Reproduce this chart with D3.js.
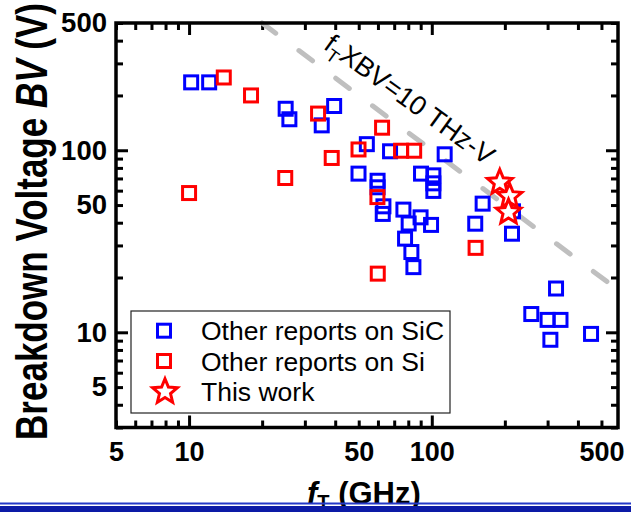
<!DOCTYPE html>
<html>
<head>
<meta charset="utf-8">
<script src="https://cdn.jsdelivr.net/npm/d3@7"></script>
<style>
  body { margin: 0; background: #fff; }
  svg { display: block; font-family: "Liberation Sans", Arial, sans-serif; }
</style>
</head>
<body>
<div id="chart"></div>
<script>
// f_T (GHz) and BV (V)
const sicF  = [10.2, 12.1, 25, 25.9, 35.2, 39.6, 54, 49.9, 67.3, 113, 59.8, 59.8, 63.2, 62.8, 90.3, 101.5, 101.5, 101.5,
               76.4, 89.9, 99.3, 80.3, 77.6, 82.4, 84, 162, 151, 214, 216, 325, 257, 300, 339, 308, 453];
const sicBV = [236, 236, 169, 148, 137, 175, 108, 74.4, 98.7, 95, 68, 62.6, 49.2, 44.7, 74.4, 72.8, 65.8, 59.8,
               47.2, 42.8, 38.9, 39.6, 32.7, 27.6, 22.8, 50.9, 39.5, 34.8, 46.2, 17.4, 12.6, 11.7, 11.7, 9.1, 9.8];
const siF   = [13.9, 18, 10, 24.9, 34, 38.7, 49.9, 62.4, 74.7, 84.6, 59.7, 59.9, 151.5];
const siBV  = [251, 200, 58.2, 70.4, 159, 90.7, 101, 133, 99.4, 99.4, 55.3, 21, 29.1];
const thisF  = [190.6, 209, 207];
const thisBV = [66.5, 55.8, 45.7];

const xLabelTicks = [5, 10, 50, 100, 500];
const yLabelTicks = [5, 10, 50, 100, 500];
const majorTicks = [10, 100];
const legendNames = ["Other reports on SiC", "Other reports on Si", "This work"];
const fomProduct = 10000; // fT x BV = 10 THz-V, in GHz*V

const W = 631, H = 512;
const box = {left: 116, right: 618, top: 23, bottom: 427.5};

const svg = d3.select("#chart").append("svg")
    .attr("width", W).attr("height", H);

const x = d3.scaleLog().domain([5, 585]).range([box.left, box.right]);
const y = d3.scaleLog().domain([3, 500]).range([box.bottom, box.top]);

const minorX = x.ticks().filter(v => !majorTicks.includes(v));
const minorY = y.ticks().filter(v => !majorTicks.includes(v));

// ticks on all four sides, pointing inward
function tickGroup(axisFn, scale, values, size, transform) {
    const g = svg.append("g").attr("transform", transform)
        .call(axisFn(scale).tickValues(values).tickSize(-size).tickFormat(""));
    g.select(".domain").remove();
    g.selectAll("line").attr("stroke", "#000").attr("stroke-width", 3);
}
[[minorX, 7], [majorTicks, 12]].forEach(([vals, len]) => {
    tickGroup(d3.axisBottom, x, vals, len, `translate(0,${box.bottom})`);
    tickGroup(d3.axisTop, x, vals, len, `translate(0,${box.top})`);
});
[[minorY, 7], [majorTicks, 12]].forEach(([vals, len]) => {
    tickGroup(d3.axisLeft, y, vals, len, `translate(${box.left},0)`);
    tickGroup(d3.axisRight, y, vals, len, `translate(${box.right},0)`);
});

// tick labels
const xl = svg.append("g").attr("transform", `translate(0,${box.bottom})`)
    .call(d3.axisBottom(x).tickValues(xLabelTicks).tickSize(0).tickPadding(14).tickFormat(d3.format("d")));
xl.select(".domain").remove();
xl.selectAll("text").attr("font-size", 27).attr("font-weight", "bold")
    .attr("font-family", "Liberation Sans, Arial, sans-serif").attr("fill", "#000");

const yl = svg.append("g").attr("transform", `translate(${box.left},0)`)
    .call(d3.axisLeft(y).tickValues(yLabelTicks).tickSize(0).tickPadding(9).tickFormat(d3.format("d")));
yl.select(".domain").remove();
yl.selectAll("text").attr("font-size", 27.5).attr("font-weight", "bold")
    .attr("font-family", "Liberation Sans, Arial, sans-serif").attr("fill", "#000");

// fT x BV = 10 THz-V guide line
const lineF = [fomProduct / 500, 585];
svg.append("path")
    .attr("d", d3.line()(lineF.map(f => [x(f), y(fomProduct / f)])))
    .attr("stroke", "#bfbfbf").attr("stroke-width", 5)
    .attr("stroke-dasharray", "17,29").attr("stroke-linecap", "round")
    .attr("fill", "none");

const angle = Math.atan2(y(fomProduct / 100) - y(fomProduct / 10), x(100) - x(10)) * 180 / Math.PI;
const ann = svg.append("text")
    .attr("transform", `translate(${x(35.5)},${y(365)}) rotate(${angle - 1})`)
    .attr("font-size", 27).attr("fill", "#000");
ann.append("tspan").text("f");
ann.append("tspan").attr("font-size", 18).attr("dy", 7).text("T");
ann.append("tspan").attr("dy", -7).text("XBV=10 THz-V");

// markers
const side = 13;
function squares(fs, bvs, color) {
    svg.append("g").selectAll("rect")
        .data(fs.map((f, i) => [f, bvs[i]]))
        .join("rect")
        .attr("x", d => x(d[0]) - side / 2)
        .attr("y", d => y(d[1]) - side / 2)
        .attr("width", side).attr("height", side)
        .attr("fill", "none").attr("stroke", color).attr("stroke-width", 3);
}
function starPath(r1, r2) {
    const pts = d3.range(10).map(i => {
        const a = -Math.PI / 2 + i * Math.PI / 5;
        const r = i % 2 ? r2 : r1;
        return [r * Math.cos(a), r * Math.sin(a)];
    });
    return "M" + pts.join("L") + "Z";
}
squares(sicF, sicBV, "#0000ff");
squares(siF, siBV, "#ff0000");
svg.append("g").selectAll("path")
    .data(thisF.map((f, i) => [f, thisBV[i]]))
    .join("path")
    .attr("transform", d => `translate(${x(d[0])},${y(d[1])})`)
    .attr("d", starPath(13, 5.8))
    .attr("fill", "#fff").attr("stroke", "#ff0000").attr("stroke-width", 3)
    .attr("stroke-linejoin", "miter");

// frame
svg.append("rect")
    .attr("x", box.left).attr("y", box.top)
    .attr("width", box.right - box.left).attr("height", box.bottom - box.top)
    .attr("fill", "none").attr("stroke", "#000").attr("stroke-width", 3.5);

// legend
const lg = svg.append("g").attr("transform", "translate(131,311)");
lg.append("rect").attr("width", 319).attr("height", 102)
    .attr("fill", "#fff").attr("stroke", "#222").attr("stroke-width", 1.2);
const rows = [19.7, 50, 80.7];
lg.append("rect").attr("x", 33 - side / 2).attr("y", rows[0] - side / 2).attr("width", side).attr("height", side)
    .attr("fill", "none").attr("stroke", "#0000ff").attr("stroke-width", 3);
lg.append("rect").attr("x", 33 - side / 2).attr("y", rows[1] - side / 2).attr("width", side).attr("height", side)
    .attr("fill", "none").attr("stroke", "#ff0000").attr("stroke-width", 3);
lg.append("path").attr("transform", `translate(34,${rows[2]})`).attr("d", starPath(13, 5.8))
    .attr("fill", "#fff").attr("stroke", "#ff0000").attr("stroke-width", 3);
lg.selectAll("text.lab").data(legendNames).join("text")
    .attr("class", "lab")
    .attr("x", 70).attr("y", (d, i) => rows[i]).attr("dy", "0.36em")
    .attr("font-size", 26.5).attr("fill", "#000")
    .text(d => d);

// axis titles
const yt = svg.append("text")
    .attr("transform", "translate(47,221.5) rotate(-90) scale(1,1.28)")
    .attr("text-anchor", "middle").attr("font-size", 35).attr("font-weight", "bold").attr("fill", "#000");
yt.append("tspan").text("Breakdown Voltage ");
yt.append("tspan").attr("font-style", "italic").text("BV");
yt.append("tspan").text(" (V)");

const xt = svg.append("text")
    .attr("x", 307).attr("y", 504)
    .attr("font-size", 31).attr("font-weight", "bold").attr("fill", "#000");
xt.append("tspan").attr("font-style", "italic").text("f");
xt.append("tspan").attr("font-size", 20).attr("dy", 5).text("T");
xt.append("tspan").attr("dy", -5).text(" (GHz)");

// rule lines at the bottom
svg.append("rect").attr("x", 0).attr("y", 502.5).attr("width", W).attr("height", 2)
    .attr("fill", "#2438c8");
svg.append("rect").attr("x", 0).attr("y", 506).attr("width", W).attr("height", 6)
    .attr("fill", "#0c1aa6");
</script>
</body>
</html>
